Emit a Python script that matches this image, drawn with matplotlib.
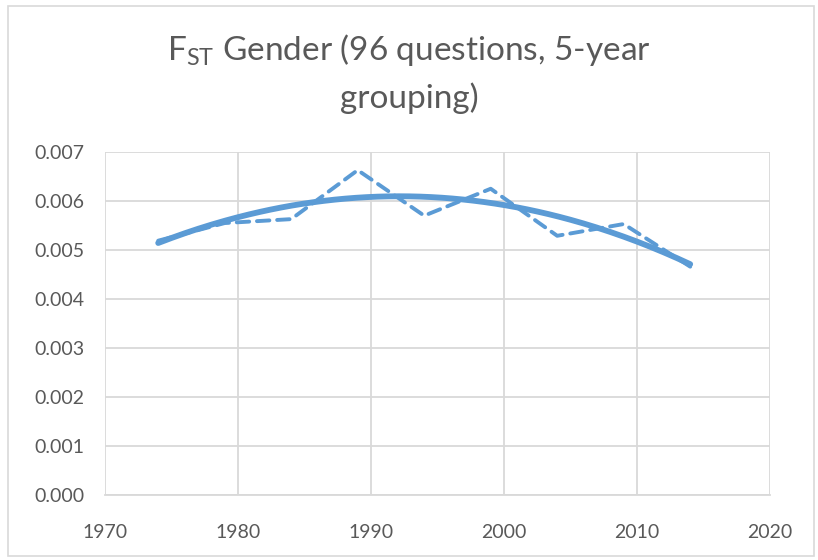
import matplotlib.pyplot as plt
import numpy as np
from matplotlib.patches import Rectangle

# data (5-year groups)
years = [1974, 1979, 1984, 1989, 1994, 1999, 2004, 2009, 2014]
fst = [0.00519, 0.00555, 0.00563, 0.00663, 0.00570, 0.00625, 0.00529, 0.00553, 0.00466]

xticks = [1970, 1980, 1990, 2000, 2010, 2020]
yticks = [0.000, 0.001, 0.002, 0.003, 0.004, 0.005, 0.006, 0.007]

plt.rcParams['font.family'] = ['Lato', 'DejaVu Sans']
plt.rcParams['mathtext.fontset'] = 'custom'
plt.rcParams['mathtext.rm'] = 'Lato'

txt = '#595959'
blue = '#5b9bd5'
grid = '#d9d9d9'

fig = plt.figure(figsize=(8.18, 5.6), dpi=100)
ax = fig.add_axes([105/818, 1 - 495/560, (770-105)/818, (495-152)/560])

# 2nd order polynomial trendline (as Excel does)
coef = np.polyfit(years, fst, 2)
xs = np.linspace(years[0], years[-1], 200)
ax.plot(xs, np.polyval(coef, xs), color=blue, lw=4.2, solid_capstyle='round', zorder=3)
ax.plot(years, fst, color=blue, lw=2.8, ls=(0, (3.2, 2.0)), dash_capstyle='round', zorder=4)

ax.set_xlim(1970, 2020)
ax.set_ylim(0, 0.007)
ax.set_xticks(xticks)
ax.set_yticks(yticks)
ax.set_yticklabels(['%.3f' % v for v in yticks])
ax.grid(True, color=grid, lw=1.3)
ax.set_axisbelow(True)
for s in ['top', 'right', 'left']:
    ax.spines[s].set_visible(False)
ax.spines['bottom'].set_color(grid)
ax.spines['bottom'].set_linewidth(1.3)
ax.tick_params(length=0, labelsize=14, colors=txt)
ax.tick_params(axis='y', pad=15)
ax.tick_params(axis='x', pad=21)

fig.text(0.5, 1 - 50/560, r'F$_{\mathrm{ST}}$ Gender (96 questions, 5-year',
         ha='center', va='center', fontsize=24, color=txt)
fig.text(0.5, 1 - 98/560, 'grouping)', ha='center', va='center', fontsize=24, color=txt)

fig.patches.append(Rectangle((8/818, 4/560), 806/818, 550/560, transform=fig.transFigure,
                             fill=False, edgecolor=grid, lw=1.2))

fig.savefig('out.png', dpi=100)
